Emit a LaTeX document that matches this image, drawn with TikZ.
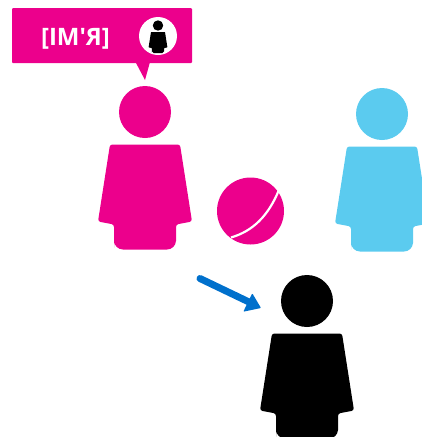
\documentclass[tikz,border=0pt]{standalone}
\usepackage{fontspec}
\newfontfamily\labelfont{Open Sans}
\definecolor{mag}{HTML}{EC008C}
\definecolor{sky}{HTML}{5BCBEF}
\definecolor{arr}{HTML}{0070CC}
\tikzset{
  personpic/.pic={
    \fill[pic actions] (0,-32.5) circle (26);
    \fill[pic actions,rounded corners=#1] (-35,0) -- (35,0) -- (47,77) -- (31,80) -- (31,94)
      [rounded corners=3.6*#1] -- (31,105) -- (-31,105) -- (-31,94)
      [rounded corners=#1] -- (-31,80) -- (-47,77) -- cycle;
  },
  bubblebox/.style={fill=mag,rounded corners=1},
  labeltext/.style={text=white,font=\labelfont\bfseries\fontsize{24pt}{26pt}\selectfont,inner sep=0},
  ballline/.style={draw=white,line width=2.2},
  movearrow/.style={draw=arr,line width=7,line cap=round},
}
\begin{document}
\begin{tikzpicture}[x=1pt,y=-1pt]
\useasboundingbox (0,0) rectangle (422,437);
\begin{scope}
\clip (0,0) rectangle (422,437);
% persons
\pic[fill=mag] at (145,144.5) {personpic=2.5};
\pic[fill=sky] at (382,146.5) {personpic=2.5};
\pic[fill=black] at (307,333.5) {personpic=2.5};
\end{scope}
% callout
\fill[bubblebox] (12,8) rectangle (192,63);
\fill[mag] (135.5,62) -- (145,80) -- (150,62) -- cycle;
\node[labeltext] (name) at (75.5,38.5) {[ІМ'Я]};
\fill[white] (158,36) circle (19);
\pic[fill=black,scale=0.2] at (158,32) {personpic=0.5};
% ball
\fill[mag] (250.5,211) circle (33.5);
\draw[ballline] (278.5,191) .. controls (268,216) and (253,231) .. (231,237.5);
% arrow
\coordinate (from) at (200,278.5);
\coordinate (to) at (261,308);
\coordinate (neck) at (249,302);
\draw[movearrow] (from) -- (neck);
\fill[arr,rounded corners=0.8] (to) -- (243.3,311.7) -- (252.3,293.3) -- cycle;
\end{tikzpicture}
\end{document}
